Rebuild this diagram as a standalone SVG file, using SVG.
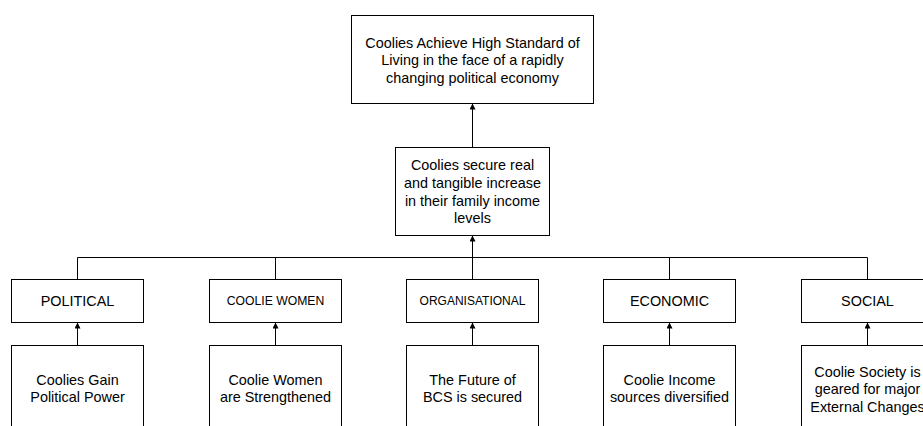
<svg xmlns="http://www.w3.org/2000/svg" width="923" height="426" viewBox="0 0 923 426">
<defs>
<marker id="arr" viewBox="0 0 6 6" refX="6" refY="3" markerWidth="6" markerHeight="6" markerUnits="userSpaceOnUse" orient="auto">
<path d="M0,0 L6,3 L0,6 z" fill="#000"/>
</marker>
<style>
rect{fill:#fff;stroke:#000;stroke-width:1}
text{font-family:"Liberation Sans",Arial,sans-serif;font-size:14.4px;fill:#000;text-anchor:middle}
text.s{font-size:12.2px}
text.xs{font-size:12px}
.c line,.c path{stroke:#000;stroke-width:1;fill:none}
.a{marker-end:url(#arr)}
</style>
</defs>
<rect x="0" y="0" width="923" height="426" style="stroke:none"/>
<g class="c" id="connectors">
<line class="a" x1="472.5" y1="147.5" x2="472.5" y2="103.5"/>
<line x1="77.5" y1="257.5" x2="867.5" y2="257.5"/>
<line x1="77.5" y1="257.5" x2="77.5" y2="279.5"/>
<line x1="275.5" y1="257.5" x2="275.5" y2="279.5"/>
<line x1="669.5" y1="257.5" x2="669.5" y2="279.5"/>
<line x1="867.5" y1="257.5" x2="867.5" y2="279.5"/>
<line class="a" x1="472.5" y1="279.5" x2="472.5" y2="235.5"/>
<line class="a" x1="77.5" y1="345.5" x2="77.5" y2="322.5"/>
<line class="a" x1="275.5" y1="345.5" x2="275.5" y2="322.5"/>
<line class="a" x1="472.5" y1="345.5" x2="472.5" y2="322.5"/>
<line class="a" x1="669.5" y1="345.5" x2="669.5" y2="322.5"/>
<line class="a" x1="867.5" y1="345.5" x2="867.5" y2="322.5"/>
</g>
<g id="goal">
<rect x="351.5" y="15.5" width="242" height="88"/>
<text x="472.5" y="47.5">Coolies Achieve High Standard of</text>
<text x="472.5" y="65">Living in the face of a rapidly</text>
<text x="472.5" y="82.5">changing political economy</text>
</g>
<g id="purpose">
<rect x="395.5" y="147.5" width="154" height="88"/>
<text x="472.5" y="169.5">Coolies secure real</text>
<text x="472.5" y="187.5">and tangible increase</text>
<text x="472.5" y="205.5">in their family income</text>
<text x="472.5" y="223">levels</text>
</g>
<g id="political">
<rect x="11.5" y="279.5" width="132" height="43"/>
<text x="77.5" y="305.7">POLITICAL</text>
</g>
<g id="coolie-women">
<rect x="209.5" y="279.5" width="132" height="43"/>
<text class="s" x="275.5" y="305.2">COOLIE WOMEN</text>
</g>
<g id="organisational">
<rect x="406.5" y="279.5" width="132" height="43"/>
<text class="xs" x="472.5" y="305.2">ORGANISATIONAL</text>
</g>
<g id="economic">
<rect x="603.5" y="279.5" width="132" height="43"/>
<text x="669.5" y="305.7">ECONOMIC</text>
</g>
<g id="social">
<rect x="801.5" y="279.5" width="132" height="43"/>
<text x="867.5" y="305.7">SOCIAL</text>
</g>
<g id="out-political">
<rect x="11.5" y="345.5" width="132" height="100"/>
<text x="77.5" y="385">Coolies Gain</text>
<text x="77.5" y="401.7">Political Power</text>
</g>
<g id="out-women">
<rect x="209.5" y="345.5" width="132" height="100"/>
<text x="275.5" y="385">Coolie Women</text>
<text x="275.5" y="401.7">are Strengthened</text>
</g>
<g id="out-organisational">
<rect x="406.5" y="345.5" width="132" height="100"/>
<text x="472.5" y="385">The Future of</text>
<text x="472.5" y="401.7">BCS is secured</text>
</g>
<g id="out-economic">
<rect x="603.5" y="345.5" width="132" height="100"/>
<text x="669.5" y="385">Coolie Income</text>
<text x="669.5" y="401.7">sources diversified</text>
</g>
<g id="out-social">
<rect x="801.5" y="345.5" width="132" height="100"/>
<text x="867.5" y="376.7">Coolie Society is</text>
<text x="867.5" y="394">geared for major</text>
<text x="867.5" y="411.7">External Changes</text>
</g>
</svg>
